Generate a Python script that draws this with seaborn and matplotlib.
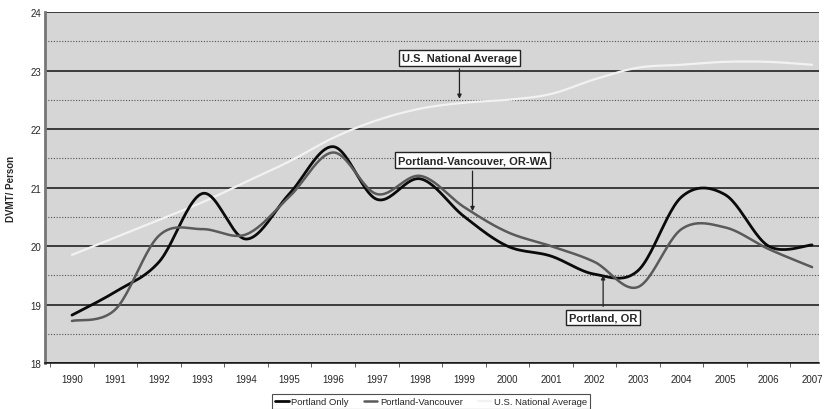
import numpy as np
import pandas as pd
import matplotlib
matplotlib.use("Agg")
import matplotlib.pyplot as plt
import seaborn as sns

# Data (daily vehicle miles travelled per person)
years = list(range(1990, 2008))
portland_only = [18.82, 19.22, 19.73, 20.90, 20.12, 20.90, 21.70, 20.80, 21.15,
                 20.51, 20.00, 19.83, 19.52, 19.58, 20.84, 20.88, 20.00, 20.02]
portland_vancouver = [18.72, 18.92, 20.18, 20.29, 20.20, 20.85, 21.60, 20.89, 21.20,
                      20.67, 20.24, 20.00, 19.73, 19.30, 20.29, 20.32, 19.95, 19.64]
us_average = [19.85, 20.15, 20.45, 20.75, 21.10, 21.45, 21.85, 22.15, 22.35,
              22.45, 22.50, 22.60, 22.85, 23.05, 23.10, 23.15, 23.15, 23.10]
series_names = ["Portland Only", "Portland-Vancouver", "U.S. National Average"]
y_ticks = [18, 19, 20, 21, 22, 23, 24]


def smooth_line(xs, ys, n=24):
    # Excel style "smoothed line" (Catmull-Rom through the data points)
    xs = np.asarray(xs, float)
    ys = np.asarray(ys, float)
    px, py = [], []
    last = len(xs) - 1
    for i in range(last):
        i0, i1, i2, i3 = max(i - 1, 0), i, i + 1, min(i + 2, last)
        t = np.linspace(0, 1, n, endpoint=(i == last - 1))
        for arr, out in ((xs, px), (ys, py)):
            p0, p1, p2, p3 = arr[i0], arr[i1], arr[i2], arr[i3]
            out.extend(0.5 * (2 * p1 + (-p0 + p2) * t
                              + (2 * p0 - 5 * p1 + 4 * p2 - p3) * t ** 2
                              + (-p0 + 3 * p1 - 3 * p2 + p3) * t ** 3))
    return np.array(px), np.array(py)


sns.set_style("white")
plt.rcParams["font.family"] = ["Liberation Sans", "DejaVu Sans"]

fig = plt.figure(figsize=(8.27, 4.10), dpi=100)
ax = fig.add_axes([0.0544, 0.112, 0.936, 0.856])
ax.set_facecolor("#d6d6d6")

styles = [("#0a0a0a", 2.0), ("#5a5a5a", 1.8), ("#f2f2f2", 1.6)]
for name, vals, (col, lw) in zip(series_names,
                                 [portland_only, portland_vancouver, us_average],
                                 styles):
    sx, sy = smooth_line(years, vals)
    sns.lineplot(x=sx, y=sy, ax=ax, color=col, linewidth=lw, sort=False,
                 label=name, zorder=3 if col != "#f2f2f2" else 2)

ax.set_xlim(1989.38, 2007.16)
ax.set_ylim(18, 24)
ax.set_yticks(y_ticks)
ax.set_yticklabels([str(v) for v in y_ticks], fontsize=7)
ax.set_yticks(np.arange(18.5, 24, 1.0), minor=True)
ax.set_xticks(years)
ax.set_xticklabels([str(y) for y in years], fontsize=7)
ax.set_xticks(np.arange(1989.5, 2007.5, 1.0), minor=True)
ax.tick_params(axis="x", which="major", length=0, pad=8)
ax.tick_params(axis="x", which="minor", length=3, color="#444444", bottom=True)
ax.tick_params(axis="y", which="both", length=0, pad=3)

ax.grid(True, axis="y", which="major", color="#111111", linewidth=1.1, zorder=1)
ax.grid(True, axis="y", which="minor", color="#555555", linewidth=0.8,
        linestyle=(0, (1, 1.5)), zorder=1)
ax.set_axisbelow(True)

for side in ["top", "right"]:
    ax.spines[side].set_visible(False)
ax.spines["left"].set_color("#777777")
ax.spines["left"].set_linewidth(2)
ax.spines["left"].set_linestyle((0, (1, 1)))
ax.spines["bottom"].set_color("#111111")
ax.spines["bottom"].set_linewidth(1.1)

ax.set_xlabel("")
ax.set_ylabel("DVMT/ Person", fontsize=7, fontweight="bold", labelpad=10)

box = dict(boxstyle="square,pad=0.25", facecolor="white", edgecolor="#222222",
           linewidth=1)
arrow = dict(arrowstyle="-|>", color="#222222", lw=0.9, mutation_scale=6)
ax.annotate("U.S. National Average", xy=(1998.9, 22.47), xytext=(1998.9, 23.22),
            ha="center", va="center", fontsize=8, fontweight="bold",
            bbox=box, arrowprops=arrow)
ax.annotate("Portland-Vancouver, OR-WA", xy=(1999.2, 20.55), xytext=(1999.2, 21.47),
            ha="center", va="center", fontsize=8, fontweight="bold",
            bbox=box, arrowprops=arrow)
ax.annotate("Portland, OR", xy=(2002.2, 19.55), xytext=(2002.2, 18.78),
            ha="center", va="center", fontsize=8, fontweight="bold",
            bbox=box, arrowprops=arrow)

leg = ax.legend(loc="upper center", bbox_to_anchor=(0.499, -0.075), ncol=3,
                fontsize=6.8, frameon=True, fancybox=False, handlelength=1.4,
                handletextpad=0.3, columnspacing=1.6, borderpad=0.3)
leg.get_frame().set_edgecolor("#222222")
leg.get_frame().set_linewidth(0.8)

fig.savefig("out.png", dpi=100)
